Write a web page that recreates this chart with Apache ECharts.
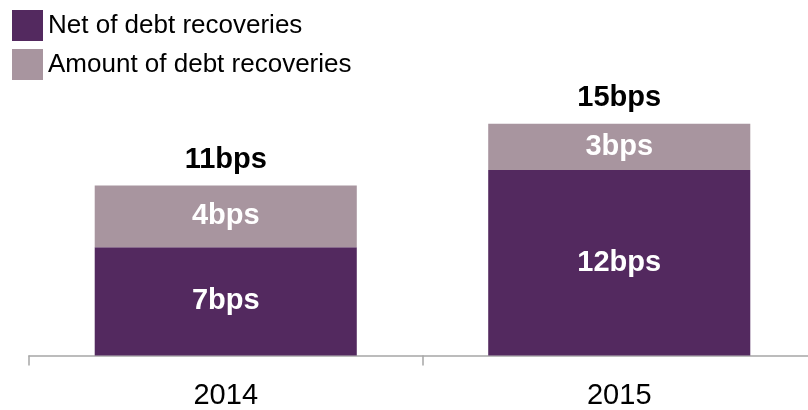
<!DOCTYPE html>
<html>
<head>
<meta charset="utf-8">
<script src="https://cdn.jsdelivr.net/npm/echarts@6/dist/echarts.min.js"></script>
<style>
  html, body { margin: 0; padding: 0; background: #ffffff; }
  #chart { width: 808px; height: 410px; }
</style>
</head>
<body>
<div id="chart"></div>
<script>
// Cost of risk, in basis points
const years = ['2014', '2015'];
const netOfRecoveries = [7, 12];
const debtRecoveries = [4, 3];
const totals = [11, 15];

const FONT = "'Liberation Sans', Arial, sans-serif";
const DARK = '#53295F';
const LIGHT = '#A8959F';
const LABEL_SIZE = 29;

const chart = echarts.init(document.getElementById('chart'), null, { renderer: 'canvas' });

const segmentLabel = {
  show: true,
  position: 'inside',
  formatter: p => p.value + 'bps',
  color: '#ffffff',
  fontWeight: 'bold',
  fontSize: LABEL_SIZE,
  fontFamily: FONT
};

chart.setOption({
  animation: false,
  backgroundColor: '#ffffff',
  textStyle: { fontFamily: FONT },
  legend: {
    data: ['Net of debt recoveries', 'Amount of debt recoveries'],
    orient: 'vertical',
    left: 12,
    top: 10,
    padding: 0,
    itemWidth: 31,
    itemHeight: 31,
    itemGap: 8,
    icon: 'rect',
    selectedMode: false,
    textStyle: { fontFamily: FONT, fontSize: 26, color: '#000000', padding: [6, 0, 0, 0] }
  },
  // the category band runs past the right edge, so the axis line reaches it
  grid: {
    left: 29,
    width: 787,
    top: 123.75,
    bottom: 54.5,
    containLabel: false,
    outerBoundsMode: 'none'
  },
  xAxis: {
    type: 'category',
    data: years,
    axisLine: { lineStyle: { color: '#A6A6A6', width: 1.5 } },
    axisTick: { show: true, length: 10, lineStyle: { color: '#A6A6A6', width: 1.5 } },
    axisLabel: { color: '#000000', fontSize: LABEL_SIZE, fontFamily: FONT, margin: 26 }
  },
  yAxis: {
    type: 'value',
    min: 0,
    max: 15,
    show: false,
    splitLine: { show: false }
  },
  series: [
    {
      name: 'Net of debt recoveries',
      type: 'bar',
      stack: 'cost',
      barWidth: '66.6%',
      data: netOfRecoveries,
      itemStyle: { color: DARK },
      label: segmentLabel
    },
    {
      name: 'Amount of debt recoveries',
      type: 'bar',
      stack: 'cost',
      barWidth: '66.6%',
      data: debtRecoveries,
      itemStyle: { color: LIGHT },
      label: segmentLabel
    },
    {
      // invisible bar carrying the total above each stack
      name: 'Total',
      type: 'bar',
      barWidth: '66.6%',
      barGap: '-100%',
      data: totals,
      itemStyle: { color: 'rgba(0,0,0,0)' },
      silent: true,
      z: 1,
      label: {
        show: true,
        position: 'top',
        distance: 11,
        formatter: p => p.value + 'bps',
        color: '#000000',
        fontWeight: 'bold',
        fontSize: LABEL_SIZE,
        fontFamily: FONT
      }
    }
  ]
});
</script>
</body>
</html>
